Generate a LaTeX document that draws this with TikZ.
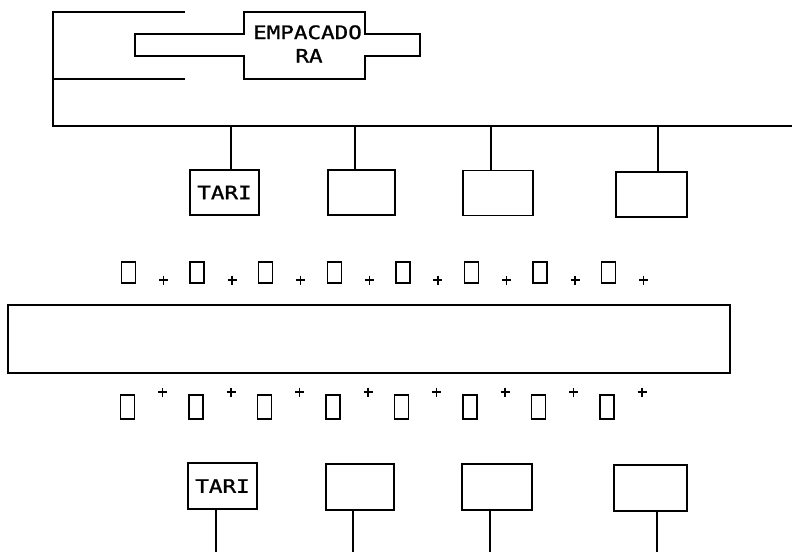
\documentclass[tikz,border=0pt]{standalone}
\usepackage{fontspec}
\newfontfamily\plotfont[FakeStretch=1.22,FakeBold=1.2]{DejaVu Sans Mono}
\begin{document}
\begin{tikzpicture}[x=1pt,y=-1pt,line width=1.5pt,
  font=\plotfont\fontsize{18.5}{22}\selectfont,
  unit/.style={draw,rectangle,inner sep=0pt},
  cell/.style={draw,rectangle,inner sep=0pt,minimum width=14pt},
  lbl/.style={inner sep=0pt,anchor=base}]
\useasboundingbox (0,0) rectangle (792,552);
% top bracket and bus
\draw (185,12) -- (53,12) -- (53,126) -- (792,126);
\draw (53,79) -- (185,79);
% EMPACADORA cross-shaped outline
\draw (244,12) -- (365,12) -- (365,34) -- (420,34) -- (420,56) -- (365,56) -- (365,79)
  -- (244,79) -- (244,56) -- (135,56) -- (135,34) -- (244,34) -- cycle;
\node[lbl] (emp1) at (307.5,39) {EMPACADO};
\node[lbl] (emp2) at (309,62.5) {RA};
% upper boxes
\node[unit,minimum width=69pt,minimum height=45pt] (u1) at (224.5,192.5) {TARI};
\node[unit,minimum width=67pt,minimum height=45pt] (u2) at (361.5,192.5) {};
\node[unit,minimum width=70pt,minimum height=45pt] (u3) at (498,193) {};
\node[unit,minimum width=71pt,minimum height=45pt] (u4) at (651.5,194.5) {};
\foreach \i/\x in {1/231,2/355,3/491,4/658}{
  \coordinate (t\i) at (\x,126);
  \draw (t\i) -- (t\i |- u\i.north);
}
% upper row of cells
\foreach \i in {0,...,7}{
  \pgfmathsetmacro{\cx}{128.5+68.6*\i}
  \node[cell,minimum height=21pt] (a\i) at (\cx,272.5) {};
  \draw (\cx+30.5,280) -- (\cx+39.5,280) (\cx+35,275.5) -- (\cx+35,284.5);
}
% main long rectangle
\node[unit,minimum width=722pt,minimum height=68pt] (main) at (369,339) {};
% lower row of cells
\foreach \i in {0,...,7}{
  \pgfmathsetmacro{\cx}{127.5+68.5*\i}
  \node[cell,minimum height=24pt] (c\i) at (\cx,407) {};
  \draw (\cx+30.5,392) -- (\cx+39.5,392) (\cx+35,387.5) -- (\cx+35,396.5);
}
% lower boxes
\node[unit,minimum width=69pt,minimum height=46pt] (l1) at (222.5,486) {TARI};
\node[unit,minimum width=68pt,minimum height=46pt] (l2) at (360,487) {};
\node[unit,minimum width=70pt,minimum height=46pt] (l3) at (497,487) {};
\node[unit,minimum width=73pt,minimum height=46pt] (l4) at (650.5,488) {};
\foreach \i/\x in {1/216,2/353,3/490,4/657}{
  \coordinate (e\i) at (\x,552);
  \draw (e\i |- l\i.south) -- (e\i);
}
\end{tikzpicture}
\end{document}
